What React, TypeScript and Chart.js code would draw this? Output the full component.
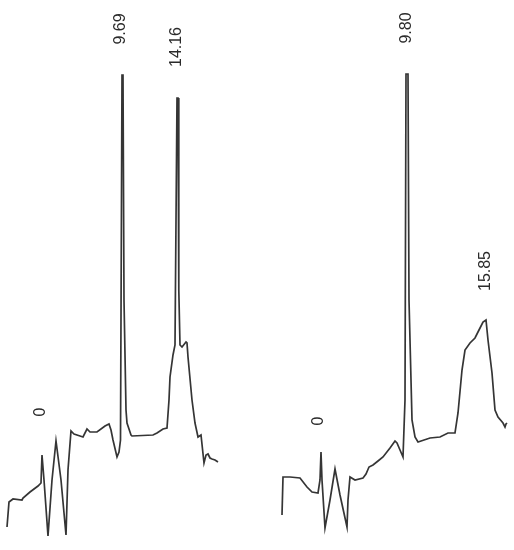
import React, { useEffect, useRef } from "react";
import { Chart, registerables } from "chart.js";

Chart.register(...registerables);

// Trace 1 (left chromatogram): retention position and detector signal
const trace1Time = [7, 9, 13, 22, 23, 30, 38, 41, 42, 44, 48, 52, 56, 61, 66, 68, 71, 74, 80, 83, 87, 90, 97, 105, 109, 111, 113, 117, 119, 120.5, 122, 123, 124, 126, 127, 131, 132, 153, 157, 163, 167, 169, 170, 173, 175, 177, 178, 178.8, 180, 182, 186, 187, 188, 192, 195, 198, 201, 204, 206, 208, 210, 212, 215, 218];
const trace1Signal = [23, 48, 51, 50, 52, 58, 64, 67, 95, 70, 14, 70, 109, 70, 15, 80, 119, 116, 114, 113, 121, 118, 118, 124, 126, 120, 110, 93, 98, 110, 475, 475, 250, 140, 127, 115, 114, 115, 117, 121, 122, 150, 173, 195, 205, 452, 452, 260, 205, 203, 208, 207, 193, 150, 127, 113, 115, 87, 95, 96, 92, 91, 90, 88];

// Trace 2 (right chromatogram)
const trace2Time = [282, 283, 290, 300, 307, 312, 318, 320, 321, 322, 325, 330, 335, 340, 347, 348, 350, 355, 363, 366, 369, 373, 378, 383, 390, 395, 397, 400, 403, 405, 406, 408, 409, 412, 415, 418, 430, 440, 448, 455, 458, 462, 465, 470, 475, 479, 483, 486, 488, 492, 495, 498, 503, 505, 506, 507];
const trace2Signal = [35, 73, 73, 72, 63, 58, 57, 70, 98, 70, 22, 50, 81, 55, 23, 50, 73, 70, 72, 76, 83, 85, 89, 93, 102, 109, 107, 100, 93, 150, 476, 476, 250, 130, 113, 108, 112, 113, 117, 117, 137, 180, 200, 207, 212, 220, 228, 230, 210, 177, 140, 133, 127, 123, 126, 127];

// Peak annotations (rotated text)
const labelTexts = ["9.69", "14.16", "0", "9.80", "15.85", "0"];
const labelTimes = [121, 177, 41, 407, 486, 319];
const labelSignals = [521, 503, 138, 522, 279, 129];

const toPoints = (xs: number[], ys: number[]) => xs.map((x, i) => ({ x, y: ys[i] }));

export default function App() {
  const ref = useRef<HTMLCanvasElement | null>(null);

  useEffect(() => {
    if (!ref.current) return;
    const labelPlugin = {
      id: "peakLabels",
      afterDatasetsDraw(chart: any) {
        const { ctx, scales } = chart;
        ctx.save();
        ctx.fillStyle = "#2a2a2a";
        ctx.font = '16px "Liberation Sans", Arial, sans-serif';
        ctx.textAlign = "center";
        ctx.textBaseline = "middle";
        labelTexts.forEach((t, i) => {
          const px = scales.x.getPixelForValue(labelTimes[i]);
          const py = scales.y.getPixelForValue(labelSignals[i]);
          ctx.save();
          ctx.translate(px, py);
          ctx.rotate(-Math.PI / 2);
          ctx.fillText(t, 0, 0);
          ctx.restore();
        });
        ctx.restore();
      },
    };
    const lineStyle = {
      showLine: true,
      borderColor: "#353535",
      borderWidth: 1.7,
      pointRadius: 0,
      tension: 0,
      fill: false,
    };
    const chart = new Chart(ref.current, {
      type: "scatter",
      data: {
        datasets: [
          { ...lineStyle, label: "Trace 1", data: toPoints(trace1Time, trace1Signal) },
          { ...lineStyle, label: "Trace 2", data: toPoints(trace2Time, trace2Signal) },
        ],
      },
      options: {
        responsive: false,
        animation: false,
        layout: { padding: 0 },
        plugins: { legend: { display: false }, tooltip: { enabled: false } },
        scales: {
          x: { type: "linear", min: 0, max: 514, display: false },
          y: { type: "linear", min: 0, max: 550, display: false },
        },
      },
      plugins: [labelPlugin],
    });
    return () => chart.destroy();
  }, []);

  return (
    <div style={{ position: "absolute", left: 0, top: 0, width: 514, height: 550, background: "#fff" }}>
      <canvas ref={ref} width={514} height={550} />
    </div>
  );
}
